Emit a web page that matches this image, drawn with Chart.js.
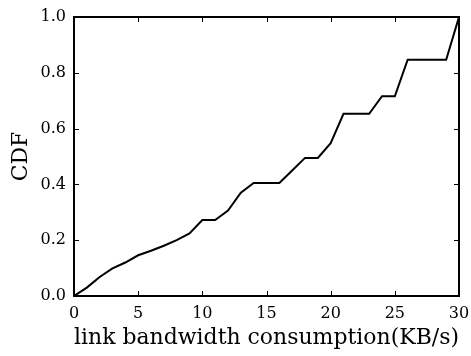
<!DOCTYPE html>
<html>
<head>
<meta charset="utf-8">
<script src="https://cdn.jsdelivr.net/npm/chart.js@4/dist/chart.umd.min.js"></script>
<style>
  html, body { margin: 0; padding: 0; background: #fff; }
  #wrap { width: 471px; height: 356px; }
</style>
</head>
<body>
<div id="wrap"><canvas id="c" width="471" height="356"></canvas></div>
<script>
// Bandwidth consumption (KB/s) and cumulative fraction of links
const bandwidth = [0,1,2,3,4,5,6,7,8,9,10,11,12,13,14,15,16,17,18,19,20,21,22,23,24,25,26,27,28,29,30];
const cdf = [0,0.03,0.068,0.099,0.12,0.146,0.162,0.18,0.2,0.224,0.272,0.272,0.306,0.37,0.405,0.405,0.405,0.45,0.495,0.495,0.548,0.653,0.653,0.653,0.716,0.716,0.847,0.847,0.847,0.847,1.0];
const xTicks = [0,5,10,15,20,25,30];
const yTicks = [0,0.2,0.4,0.6,0.8,1.0];

const FONT = "'DejaVu Serif', serif";

// Frame around the plot area with inward tick marks on all four sides
const frameTicks = {
  id: 'frameTicks',
  afterDatasetsDraw(chart) {
    const { ctx, chartArea: a, scales } = chart;
    const len = 5;
    ctx.save();
    ctx.strokeStyle = '#000';
    ctx.lineWidth = 1;
    ctx.beginPath();
    xTicks.forEach(v => {
      const px = Math.round(scales.x.getPixelForValue(v)) + 0.5;
      ctx.moveTo(px, a.bottom); ctx.lineTo(px, a.bottom - len);
      ctx.moveTo(px, a.top); ctx.lineTo(px, a.top + len);
    });
    yTicks.forEach(v => {
      const py = Math.round(scales.y.getPixelForValue(v)) + 0.5;
      ctx.moveTo(a.left, py); ctx.lineTo(a.left + len, py);
      ctx.moveTo(a.right, py); ctx.lineTo(a.right - len, py);
    });
    ctx.stroke();
    ctx.lineWidth = 2;
    ctx.strokeRect(a.left, a.top, a.right - a.left, a.bottom - a.top);
    ctx.restore();
  }
};

new Chart(document.getElementById('c'), {
  type: 'line',
  data: {
    datasets: [{
      data: bandwidth.map((b, i) => ({ x: b, y: cdf[i] })),
      borderColor: '#000',
      borderWidth: 2,
      pointRadius: 0,
      tension: 0,
      fill: false
    }]
  },
  options: {
    responsive: false,
    animation: false,
    devicePixelRatio: 1,
    layout: { padding: { top: 17, right: 12, left: 0, bottom: 0 } },
    plugins: { legend: { display: false }, tooltip: { enabled: false } },
    scales: {
      x: {
        type: 'linear', min: 0, max: 30,
        afterBuildTicks(s) { s.ticks = xTicks.map(v => ({ value: v })); },
        afterFit(s) { s.height = 60; s.paddingLeft = 0; s.paddingRight = 0; },
        grid: { display: false, drawTicks: false },
        border: { display: false },
        ticks: { color: '#000', padding: 8, maxRotation: 0, font: { family: FONT, size: 16 } },
        title: { display: true, text: 'link bandwidth consumption(KB/s)', color: '#000',
                 font: { family: FONT, size: 22 }, padding: { top: 0, bottom: 5 } }
      },
      y: {
        type: 'linear', min: 0, max: 1,
        afterBuildTicks(s) { s.ticks = yTicks.map(v => ({ value: v })); },
        afterFit(s) { s.width = 74; s.paddingTop = 0; s.paddingBottom = 0; },
        grid: { display: false, drawTicks: false },
        border: { display: false },
        ticks: { color: '#000', padding: 8, font: { family: FONT, size: 16 },
                 callback: v => v.toFixed(1) },
        title: { display: true, text: 'CDF', color: '#000',
                 font: { family: FONT, size: 22 }, padding: { top: 8, bottom: 0 } }
      }
    }
  },
  plugins: [frameTicks]
});
</script>
</body>
</html>
